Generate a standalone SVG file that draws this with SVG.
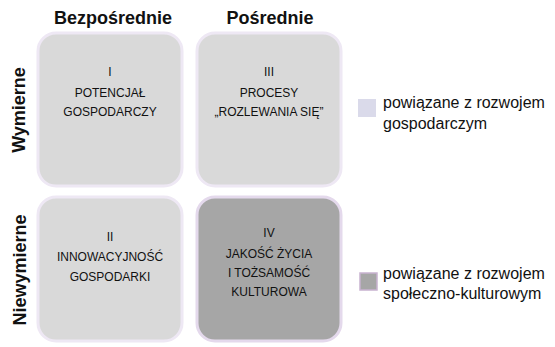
<svg xmlns="http://www.w3.org/2000/svg" width="555" height="347" viewBox="0 0 555 347">
<style>
.box{fill:#d9d9d9;stroke:#eee8f4;stroke-width:3}
.dark{fill:#a6a6a6;stroke:#e4d9ec;stroke-width:3}
.t{font-family:"Liberation Sans",Arial,sans-serif;font-size:12px;fill:#111;text-anchor:middle}
.h{font-family:"Liberation Sans",Arial,sans-serif;font-size:18px;font-weight:bold;fill:#111;text-anchor:middle}
.l{font-family:"Liberation Sans",Arial,sans-serif;font-size:16px;fill:#111}
</style>
<rect width="555" height="347" fill="#fff"/>
<g id="headers">
<text class="h" x="113" y="24">Bezpośrednie</text>
<text class="h" x="270" y="24">Pośrednie</text>
<text class="h" transform="translate(25,110) rotate(-90)">Wymierne</text>
<text class="h" transform="translate(26,270) rotate(-90)">Niewymierne</text>
</g>
<g id="box-I">
<rect class="box" x="38" y="33" width="144" height="153" rx="18"/>
<text class="t" x="110" y="76">I</text>
<text class="t" x="110" y="97">POTENCJAŁ</text>
<text class="t" x="110" y="116">GOSPODARCZY</text>
</g>
<g id="box-III">
<rect class="box" x="197" y="33" width="144" height="153" rx="18"/>
<text class="t" x="269" y="76">III</text>
<text class="t" x="269" y="97">PROCESY</text>
<text class="t" x="269" y="116">„ROZLEWANIA SIĘ”</text>
</g>
<g id="box-II">
<rect class="box" x="38" y="197" width="144" height="144" rx="18"/>
<text class="t" x="110" y="241">II</text>
<text class="t" x="110" y="261">INNOWACYJNOŚĆ</text>
<text class="t" x="110" y="281">GOSPODARKI</text>
</g>
<g id="box-IV">
<rect class="dark" x="197" y="197" width="144" height="144" rx="18"/>
<text class="t" x="269" y="237">IV</text>
<text class="t" x="269" y="258">JAKOŚĆ ŻYCIA</text>
<text class="t" x="269" y="277">I TOŻSAMOŚĆ</text>
<text class="t" x="269" y="296">KULTUROWA</text>
</g>
<g id="legend-1">
<rect x="358" y="99" width="18" height="18" fill="#dadaea"/>
<text class="l" x="383" y="108">powiązane z rozwojem</text>
<text class="l" x="383" y="129">gospodarczym</text>
</g>
<g id="legend-2">
<rect x="360" y="273" width="17" height="17" fill="#a6a6a6" stroke="#c8b2d0" stroke-width="1.5"/>
<text class="l" x="383" y="279">powiązane z rozwojem</text>
<text class="l" x="383" y="299">społeczno-kulturowym</text>
</g>
<g id="connectors"/>
</svg>
